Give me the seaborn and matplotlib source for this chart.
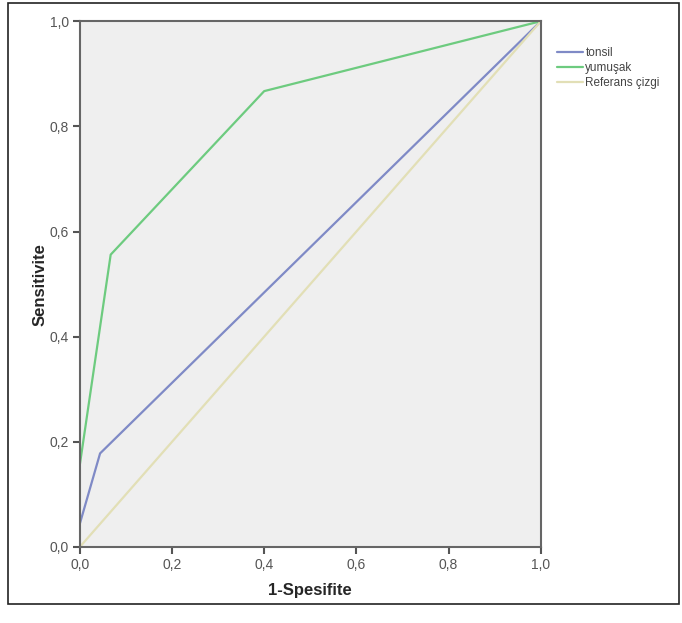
import matplotlib
matplotlib.use("Agg")
import matplotlib.pyplot as plt
import seaborn as sns
from matplotlib.patches import Rectangle
from matplotlib.ticker import FuncFormatter

# ROC curve points
tonsil_x = [0.0, 0.0, 0.044, 1.0]
tonsil_y = [0.0, 0.044, 0.178, 1.0]
yumusak_x = [0.0, 0.0, 0.067, 0.4, 1.0]
yumusak_y = [0.0, 0.156, 0.556, 0.867, 1.0]
ref_x = [0.0, 1.0]
ref_y = [0.0, 1.0]
ticks = [0.0, 0.2, 0.4, 0.6, 0.8, 1.0]

sns.set_style("white")
plt.rcParams["font.family"] = ["Liberation Sans", "DejaVu Sans"]

series = [
    ("tonsil", tonsil_x, tonsil_y, "#7f8ac6"),
    ("yumuşak", yumusak_x, yumusak_y, "#6dcb7f"),
    ("Referans çizgi", ref_x, ref_y, "#e2dfb6"),
]

fig = plt.figure(figsize=(6.82, 6.23), dpi=100)
ax = fig.add_axes([0.117, 0.122, 0.676, 0.844])
ax.set_facecolor("#efefef")

for name, xs, ys, col in series:
    sns.lineplot(x=xs, y=ys, sort=False, estimator=None, color=col,
                 linewidth=1.6, ax=ax, label=name)

ax.set_xlim(0, 1)
ax.set_ylim(0, 1)
ax.set_xticks(ticks)
ax.set_yticks(ticks)
fmt = FuncFormatter(lambda v, p: f"{v:.1f}".replace(".", ","))
ax.xaxis.set_major_formatter(fmt)
ax.yaxis.set_major_formatter(fmt)
ax.tick_params(axis="both", length=5, width=1.5, color="#555555", labelsize=10,
               labelcolor="#555555", direction="out", pad=3,
               bottom=True, left=True)
for s in ax.spines.values():
    s.set_color("#666666")
    s.set_linewidth(1.5)

ax.set_xlabel("1-Spesifite", fontsize=12, fontweight="bold", labelpad=8)
ax.set_ylabel("Sensitivite", fontsize=12, fontweight="bold", labelpad=1)

leg = ax.legend(loc="upper left", bbox_to_anchor=(1.025, 0.96), frameon=False,
                fontsize=8.5, handlelength=2.2, handletextpad=0.2, labelspacing=0.25,
                borderaxespad=0)
for t in leg.get_texts():
    t.set_color("#444444")

# outer frame around the whole picture
fig.patches.append(Rectangle((0.012, 0.03), 0.984, 0.965, transform=fig.transFigure,
                             fill=False, edgecolor="#222222", linewidth=1.2))

fig.savefig("out.png", dpi=100)
